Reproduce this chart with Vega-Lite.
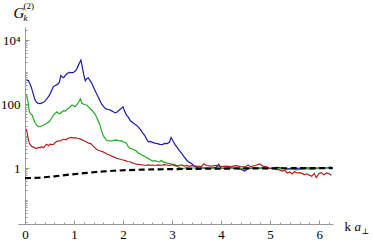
{
  "$schema": "https://vega.github.io/schema/vega-lite/v6.json",
  "width": 315,
  "height": 197,
  "autosize": {"type": "none"},
  "padding": {"left": 18, "top": 27, "right": 41, "bottom": 19},
  "background": "white",
  "config": {
    "view": {"stroke": null},
    "font": "Liberation Serif",
    "axis": {"grid": false, "labelFont": "Liberation Serif", "titleFont": "Liberation Serif", "labelColor": "black", "titleColor": "black", "domainColor": "#999999", "tickColor": "#999999", "titleFontWeight": "normal", "labelFontSize": 13}
  },
  "datasets": {
    "blue": [
      {"k":0.03,"G":560},{"k":0.07,"G":540},{"k":0.1,"G":430},{"k":0.13,"G":330},{"k":0.17,"G":200},{"k":0.2,"G":140},{"k":0.23,"G":115},{"k":0.27,"G":104},{"k":0.31,"G":103},{"k":0.35,"G":108},{"k":0.38,"G":113},{"k":0.42,"G":130},{"k":0.46,"G":155},{"k":0.5,"G":190},{"k":0.54,"G":260},{"k":0.58,"G":350},{"k":0.62,"G":380},{"k":0.66,"G":410},{"k":0.7,"G":470},{"k":0.73,"G":780},{"k":0.76,"G":700},{"k":0.79,"G":660},{"k":0.82,"G":780},{"k":0.86,"G":900},{"k":0.9,"G":980},{"k":0.94,"G":960},{"k":0.98,"G":950},{"k":1.02,"G":1050},{"k":1.05,"G":1200},{"k":1.08,"G":1500},{"k":1.11,"G":1900},{"k":1.14,"G":2370},{"k":1.17,"G":1400},{"k":1.2,"G":800},{"k":1.23,"G":530},{"k":1.26,"G":620},{"k":1.29,"G":660},{"k":1.32,"G":560},{"k":1.36,"G":450},{"k":1.4,"G":330},{"k":1.44,"G":240},{"k":1.48,"G":180},{"k":1.52,"G":135},{"k":1.56,"G":100},{"k":1.6,"G":85},{"k":1.64,"G":72},{"k":1.68,"G":68},{"k":1.72,"G":66},{"k":1.76,"G":62},{"k":1.8,"G":57},{"k":1.84,"G":53},{"k":1.88,"G":56},{"k":1.92,"G":64},{"k":1.96,"G":72},{"k":2.0,"G":82},{"k":2.03,"G":60},{"k":2.07,"G":45},{"k":2.11,"G":38},{"k":2.15,"G":30},{"k":2.2,"G":26},{"k":2.25,"G":23},{"k":2.3,"G":20},{"k":2.35,"G":16},{"k":2.4,"G":12.5},{"k":2.44,"G":10.5},{"k":2.48,"G":8},{"k":2.52,"G":6.6},{"k":2.56,"G":6.8},{"k":2.6,"G":6.3},{"k":2.65,"G":6.0},{"k":2.7,"G":5.8},{"k":2.75,"G":5.5},{"k":2.8,"G":5.4},{"k":2.85,"G":5.9},{"k":2.9,"G":5.8},{"k":2.95,"G":6.5},{"k":2.98,"G":9},{"k":3.02,"G":7},{"k":3.06,"G":5.4},{"k":3.1,"G":4.5},{"k":3.15,"G":3.5},{"k":3.2,"G":2.8},{"k":3.25,"G":2.2},{"k":3.3,"G":1.75},{"k":3.35,"G":1.5},{"k":3.4,"G":1.38},{"k":3.45,"G":1.15},{"k":3.5,"G":1.05},{"k":3.55,"G":1.0},{"k":3.6,"G":1.02},{"k":3.7,"G":0.97},{"k":3.8,"G":1.0},{"k":3.9,"G":1.05},{"k":3.95,"G":1.3},{"k":4.0,"G":1.0},{"k":4.1,"G":0.96},{"k":4.2,"G":1.02},{"k":4.3,"G":0.98},{"k":4.4,"G":0.92},{"k":4.48,"G":0.8},{"k":4.55,"G":0.95},{"k":4.65,"G":1.0},{"k":4.75,"G":0.97},{"k":4.85,"G":1.02},{"k":4.95,"G":0.95},{"k":5.05,"G":1.0},{"k":5.15,"G":1.05},{"k":5.25,"G":1.0},{"k":5.35,"G":0.95},{"k":5.45,"G":1.0},{"k":5.55,"G":0.97},{"k":5.65,"G":1.0},{"k":5.75,"G":1.02},{"k":5.85,"G":0.98},{"k":5.95,"G":1.0},{"k":6.05,"G":1.02},{"k":6.15,"G":1.0},{"k":6.25,"G":1.05}
    ],
    "green": [
      {"k":0.03,"G":190},{"k":0.06,"G":120},{"k":0.09,"G":57},{"k":0.12,"G":48},{"k":0.15,"G":44},{"k":0.18,"G":32},{"k":0.21,"G":25},{"k":0.25,"G":21},{"k":0.28,"G":19.5},{"k":0.32,"G":20},{"k":0.35,"G":21},{"k":0.4,"G":23},{"k":0.45,"G":25},{"k":0.49,"G":28},{"k":0.52,"G":31.6},{"k":0.55,"G":38},{"k":0.58,"G":45},{"k":0.62,"G":52},{"k":0.65,"G":57},{"k":0.69,"G":50},{"k":0.72,"G":51},{"k":0.76,"G":58},{"k":0.79,"G":62},{"k":0.83,"G":60},{"k":0.86,"G":70},{"k":0.89,"G":74},{"k":0.93,"G":85},{"k":0.96,"G":93},{"k":0.99,"G":88},{"k":1.02,"G":82},{"k":1.06,"G":95},{"k":1.1,"G":120},{"k":1.13,"G":144},{"k":1.16,"G":105},{"k":1.2,"G":98},{"k":1.23,"G":95},{"k":1.26,"G":93},{"k":1.3,"G":80},{"k":1.33,"G":72},{"k":1.36,"G":65},{"k":1.4,"G":55},{"k":1.44,"G":45},{"k":1.47,"G":36},{"k":1.5,"G":28},{"k":1.53,"G":22},{"k":1.56,"G":15},{"k":1.59,"G":10.7},{"k":1.62,"G":9},{"k":1.66,"G":7.5},{"k":1.7,"G":7.2},{"k":1.74,"G":7.0},{"k":1.77,"G":7.0},{"k":1.81,"G":7.3},{"k":1.85,"G":7.6},{"k":1.88,"G":7.4},{"k":1.92,"G":7.0},{"k":1.96,"G":7.2},{"k":2.0,"G":6.6},{"k":2.04,"G":6.3},{"k":2.07,"G":5.9},{"k":2.1,"G":4.8},{"k":2.14,"G":4.1},{"k":2.18,"G":4.0},{"k":2.22,"G":3.7},{"k":2.26,"G":3.5},{"k":2.3,"G":3.0},{"k":2.34,"G":2.8},{"k":2.38,"G":2.55},{"k":2.42,"G":2.4},{"k":2.46,"G":2.2},{"k":2.51,"G":2.0},{"k":2.55,"G":1.85},{"k":2.6,"G":1.65},{"k":2.65,"G":1.7},{"k":2.7,"G":1.6},{"k":2.75,"G":1.55},{"k":2.78,"G":1.75},{"k":2.82,"G":1.55},{"k":2.86,"G":1.5},{"k":2.9,"G":1.42},{"k":2.95,"G":1.38},{"k":3.0,"G":1.33},{"k":3.05,"G":1.3},{"k":3.1,"G":1.15},{"k":3.16,"G":1.0},{"k":3.22,"G":0.95},{"k":3.3,"G":1.05},{"k":3.35,"G":1.0},{"k":3.45,"G":1.0},{"k":3.55,"G":0.95},{"k":3.65,"G":1.02},{"k":3.75,"G":0.97},{"k":3.85,"G":1.0},{"k":3.95,"G":0.95},{"k":4.05,"G":1.0},{"k":4.15,"G":1.03},{"k":4.25,"G":0.98},{"k":4.35,"G":1.0},{"k":4.45,"G":0.96},{"k":4.55,"G":1.0},{"k":4.65,"G":1.02},{"k":4.75,"G":0.98},{"k":4.85,"G":1.0},{"k":4.95,"G":0.97},{"k":5.05,"G":1.0},{"k":5.15,"G":0.93},{"k":5.25,"G":0.97},{"k":5.35,"G":0.9},{"k":5.45,"G":0.93},{"k":5.55,"G":0.88},{"k":5.65,"G":0.92},{"k":5.75,"G":0.95},{"k":5.85,"G":0.9},{"k":5.95,"G":0.95},{"k":6.05,"G":0.97},{"k":6.15,"G":1.0},{"k":6.25,"G":1.1}
    ],
    "red": [
      {"k":0.03,"G":16.5},{"k":0.06,"G":9},{"k":0.09,"G":5.9},{"k":0.13,"G":4.8},{"k":0.17,"G":4.5},{"k":0.21,"G":4.2},{"k":0.24,"G":4.1},{"k":0.28,"G":4.4},{"k":0.31,"G":4.3},{"k":0.34,"G":4.6},{"k":0.38,"G":4.3},{"k":0.41,"G":5.0},{"k":0.44,"G":5.5},{"k":0.48,"G":5.0},{"k":0.51,"G":5.6},{"k":0.55,"G":5.4},{"k":0.58,"G":5.5},{"k":0.62,"G":6.3},{"k":0.65,"G":6.8},{"k":0.68,"G":7.1},{"k":0.72,"G":6.9},{"k":0.75,"G":7.5},{"k":0.79,"G":7.9},{"k":0.83,"G":7.6},{"k":0.87,"G":8.3},{"k":0.91,"G":8.8},{"k":0.95,"G":9.1},{"k":0.99,"G":8.6},{"k":1.03,"G":8.9},{"k":1.07,"G":8.5},{"k":1.11,"G":8.3},{"k":1.15,"G":7.8},{"k":1.19,"G":7.2},{"k":1.22,"G":7.0},{"k":1.26,"G":6.4},{"k":1.3,"G":6.0},{"k":1.34,"G":5.8},{"k":1.38,"G":5.0},{"k":1.42,"G":4.4},{"k":1.46,"G":3.8},{"k":1.5,"G":3.6},{"k":1.54,"G":3.4},{"k":1.59,"G":3.2},{"k":1.63,"G":3.0},{"k":1.68,"G":2.7},{"k":1.73,"G":2.55},{"k":1.78,"G":2.3},{"k":1.82,"G":2.2},{"k":1.87,"G":2.0},{"k":1.91,"G":1.95},{"k":1.96,"G":1.85},{"k":2.0,"G":1.78},{"k":2.05,"G":1.7},{"k":2.09,"G":1.6},{"k":2.14,"G":1.57},{"k":2.19,"G":1.45},{"k":2.23,"G":1.38},{"k":2.27,"G":1.33},{"k":2.32,"G":1.3},{"k":2.36,"G":1.27},{"k":2.41,"G":1.24},{"k":2.46,"G":1.2},{"k":2.51,"G":1.26},{"k":2.56,"G":1.22},{"k":2.61,"G":1.24},{"k":2.66,"G":1.2},{"k":2.72,"G":1.25},{"k":2.78,"G":1.22},{"k":2.84,"G":1.27},{"k":2.89,"G":1.24},{"k":2.95,"G":1.2},{"k":3.0,"G":1.28},{"k":3.05,"G":1.18},{"k":3.1,"G":1.15},{"k":3.15,"G":1.2},{"k":3.2,"G":1.25},{"k":3.25,"G":1.15},{"k":3.3,"G":1.2},{"k":3.35,"G":1.12},{"k":3.4,"G":1.18},{"k":3.5,"G":1.15},{"k":3.6,"G":1.1},{"k":3.65,"G":1.35},{"k":3.7,"G":1.2},{"k":3.8,"G":1.15},{"k":3.9,"G":1.2},{"k":4.0,"G":1.1},{"k":4.1,"G":1.15},{"k":4.2,"G":1.1},{"k":4.3,"G":1.18},{"k":4.4,"G":1.1},{"k":4.5,"G":1.08},{"k":4.55,"G":1.25},{"k":4.6,"G":1.1},{"k":4.7,"G":1.2},{"k":4.79,"G":1.35},{"k":4.85,"G":1.15},{"k":4.92,"G":1.1},{"k":4.99,"G":0.98},{"k":5.05,"G":0.95},{"k":5.12,"G":0.9},{"k":5.19,"G":0.87},{"k":5.25,"G":0.8},{"k":5.3,"G":0.85},{"k":5.35,"G":0.7},{"k":5.4,"G":0.75},{"k":5.45,"G":0.65},{"k":5.5,"G":0.78},{"k":5.55,"G":0.7},{"k":5.6,"G":0.72},{"k":5.65,"G":0.68},{"k":5.7,"G":0.62},{"k":5.75,"G":0.66},{"k":5.8,"G":0.6},{"k":5.85,"G":0.55},{"k":5.9,"G":0.68},{"k":5.94,"G":0.5},{"k":6.0,"G":0.68},{"k":6.04,"G":0.72},{"k":6.1,"G":0.62},{"k":6.15,"G":0.7},{"k":6.2,"G":0.66},{"k":6.25,"G":0.6}
    ],
    "black": [
      {"k":0,"G":0.48},{"k":0.3,"G":0.5},{"k":0.6,"G":0.55},{"k":0.9,"G":0.62},{"k":1.2,"G":0.69},{"k":1.5,"G":0.76},{"k":1.8,"G":0.82},{"k":2.1,"G":0.86},{"k":2.4,"G":0.89},{"k":2.7,"G":0.91},{"k":3.0,"G":0.925},{"k":3.5,"G":0.945},{"k":4.0,"G":0.96},{"k":4.5,"G":0.97},{"k":5.0,"G":0.98},{"k":5.5,"G":0.985},{"k":6.0,"G":0.99},{"k":6.28,"G":0.99}
    ]
  },
  "resolve": {"axis": {"x": "independent", "y": "independent"}},
  "layer": [
    {
      "data": {"name": "blue"},
      "mark": {"type": "line", "color": "#1c1cb4", "strokeWidth": 1.2, "clip": true},
      "encoding": {
        "x": {"field": "k", "type": "quantitative", "scale": {"domain": [-0.143, 6.283], "nice": false, "zero": false},
          "axis": {"orient": "bottom", "values": [0,1,2,3,4,5,6], "format": "d", "tickSize": -4, "labelPadding": 8, "labelFont": "Liberation Serif", "labelFontSize": 13, "title": "k", "titleFont": "Liberation Serif", "titleFontSize": 13, "titleX": 326, "titleY": 6, "titleAlign": "left", "titleBaseline": "alphabetic", "titleAnchor": null}},
        "y": {"field": "G", "type": "quantitative", "scale": {"type": "log", "domain": [0.0178, 25500], "nice": false},
          "axis": {"orient": "left", "offset": -7, "values": [1,100,10000], "labelExpr": "datum.value >= 10000 ? '10⁴' : format(datum.value, '~g')", "tickSize": -4, "labelPadding": 9, "labelFont": "Liberation Serif", "labelFontSize": 13, "title": "G", "titleFont": "Liberation Serif", "titleFontSize": 15, "titleFontStyle": "italic", "titleAngle": 0, "titleX": -12, "titleY": -10, "titleAlign": "left", "titleBaseline": "alphabetic", "titleAnchor": null}}
      }
    },
    {
      "data": {"name": "green"},
      "mark": {"type": "line", "color": "#22aa22", "strokeWidth": 1.2, "clip": true},
      "encoding": {
        "x": {"field": "k", "type": "quantitative", "scale": {"domain": [-0.143, 6.283], "nice": false, "zero": false},
          "axis": {"orient": "bottom", "values": [0.2,0.4,0.6,0.8,1.2,1.4,1.6,1.8,2.2,2.4,2.6,2.8,3.2,3.4,3.6,3.8,4.2,4.4,4.6,4.8,5.2,5.4,5.6,5.8,6.2], "labels": false, "domain": false, "tickSize": -2, "title": "a", "titleFont": "Liberation Serif", "titleFontSize": 13, "titleFontStyle": "italic", "titleX": 336, "titleY": 6, "titleAlign": "left", "titleBaseline": "alphabetic", "titleAnchor": null}},
        "y": {"field": "G", "type": "quantitative", "scale": {"type": "log", "domain": [0.0178, 25500], "nice": false},
          "axis": {"orient": "left", "offset": -7, "values": [0.02,0.03,0.04,0.05,0.06,0.07,0.08,0.09,0.1,0.2,0.3,0.4,0.5,0.6,0.7,0.8,0.9,2,3,4,5,6,7,8,9,10,20,30,40,50,60,70,80,90,200,300,400,500,600,700,800,900,1000,2000,3000,4000,5000,6000,7000,8000,9000,20000], "labels": false, "domain": false, "tickSize": -2, "title": "(2)", "titleFont": "Liberation Serif", "titleFontSize": 9, "titleAngle": 0, "titleX": -2, "titleY": -19, "titleAlign": "left", "titleBaseline": "alphabetic", "titleAnchor": null}}
      }
    },
    {
      "data": {"name": "red"},
      "mark": {"type": "line", "color": "#b41c1c", "strokeWidth": 1.2, "clip": true},
      "encoding": {
        "x": {"field": "k", "type": "quantitative", "scale": {"domain": [-0.143, 6.283], "nice": false, "zero": false},
          "axis": {"orient": "bottom", "labels": false, "domain": false, "ticks": false, "title": "⊥", "titleFont": "DejaVu Serif", "titleFontSize": 8, "titleX": 343, "titleY": 9, "titleAlign": "left", "titleBaseline": "alphabetic", "titleAnchor": null}},
        "y": {"field": "G", "type": "quantitative", "scale": {"type": "log", "domain": [0.0178, 25500], "nice": false},
          "axis": {"orient": "left", "offset": -7, "labels": false, "domain": false, "ticks": false, "title": "k", "titleFont": "Liberation Serif", "titleFontSize": 9, "titleFontStyle": "italic", "titleAngle": 0, "titleX": -2, "titleY": -7, "titleAlign": "left", "titleBaseline": "alphabetic", "titleAnchor": null}}
      }
    },
    {
      "data": {"name": "black"},
      "mark": {"type": "line", "color": "black", "strokeWidth": 2.2, "strokeDash": [6, 3.5], "clip": true},
      "encoding": {
        "x": {"field": "k", "type": "quantitative", "scale": {"domain": [-0.143, 6.283], "nice": false, "zero": false}, "axis": null},
        "y": {"field": "G", "type": "quantitative", "scale": {"type": "log", "domain": [0.0178, 25500], "nice": false}, "axis": null}
      }
    }
  ]
}
